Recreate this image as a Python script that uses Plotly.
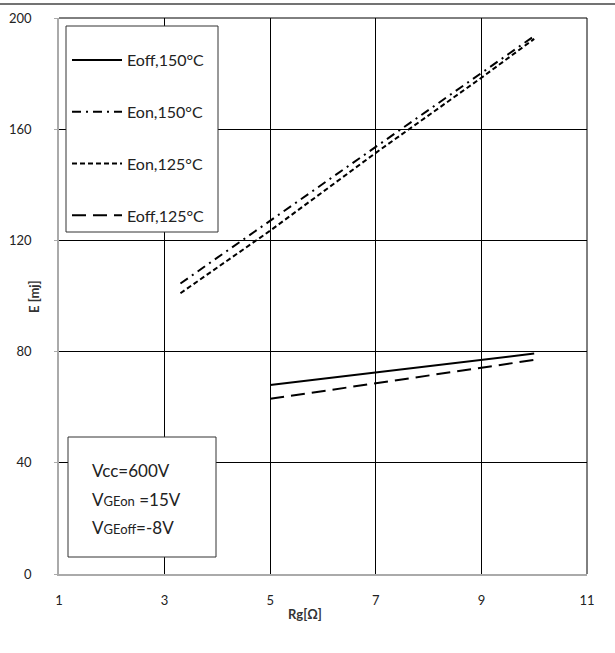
import plotly.graph_objects as go

# Data
rg_on = [3.3, 5, 7, 9, 10]
eon_150 = [104.5, 127.0, 153.5, 180.0, 193.5]
eon_125 = [101.0, 123.5, 151.5, 178.5, 192.5]
rg_off = [5, 10]
eoff_150 = [68.0, 79.3]
eoff_125 = [63.0, 77.0]

x_ticks = [1, 3, 5, 7, 9, 11]
y_ticks = [0, 40, 80, 120, 160, 200]

FONT = "Lato"
W, H = 615, 653
L, R, T, B = 59, 28, 18, 79
PW, PH = W - L - R, H - T - B

def px(x):
    return (x - L) / PW

def py(y):
    return (H - B - y) / PH

fig = go.Figure()
fig.add_trace(go.Scatter(x=rg_off, y=eoff_150, mode="lines", name="Eoff,150°C",
                         legendgroup="a", line=dict(color="black", width=2, dash="solid")))
fig.add_trace(go.Scatter(x=rg_on, y=eon_150, mode="lines", name="Eon,150°C",
                         legendgroup="b", line=dict(color="black", width=2, dash="9px,5px,2px,5px")))
fig.add_trace(go.Scatter(x=rg_on, y=eon_125, mode="lines", name="Eon,125°C",
                         legendgroup="c", line=dict(color="black", width=2, dash="5px,3px")))
fig.add_trace(go.Scatter(x=rg_off, y=eoff_125, mode="lines", name="Eoff,125°C",
                         legendgroup="d", line=dict(color="black", width=2, dash="14px,7px")))

shapes = [
    # top and right frame (black, like gridlines)
    dict(type="line", xref="paper", yref="paper", x0=0, x1=1, y0=1, y1=1,
         line=dict(color="black", width=1)),
    dict(type="line", xref="paper", yref="paper", x0=1, x1=1, y0=0, y1=1,
         line=dict(color="black", width=1)),
    # legend frame
    dict(type="rect", xref="paper", yref="paper", x0=px(66), x1=px(218), y0=py(232), y1=py(26),
         line=dict(color="#333", width=1), fillcolor="white", layer="above"),
    # conditions box
    dict(type="rect", xref="paper", yref="paper", x0=px(68), x1=px(216), y0=py(557), y1=py(437),
         line=dict(color="#333", width=1), fillcolor="white", layer="above"),
    # top page rule
    dict(type="line", xref="paper", yref="paper", x0=px(0), x1=px(615), y0=py(4), y1=py(4),
         line=dict(color="#444", width=1.5)),
]

small = "<span style='font-size:13px'>"
cond_font = dict(family=FONT, size=17, color="#222")
annotations = [
    dict(text="Vcc=600V", x=px(90), y=py(470), xref="paper", yref="paper", align="left",
         xanchor="left", yanchor="middle", showarrow=False, font=cond_font),
    dict(text="V" + small + "GEon</span> =15V", x=px(90), y=py(499), xref="paper", yref="paper", align="left",
         xanchor="left", yanchor="middle", showarrow=False, font=cond_font),
    dict(text="V" + small + "GEoff</span>=-8V", x=px(90), y=py(527), xref="paper", yref="paper", align="left",
         xanchor="left", yanchor="middle", showarrow=False, font=cond_font),
    dict(text="<b>Rg[Ω]</b>", x=px(305), y=py(614), xref="paper", yref="paper",
         xanchor="center", yanchor="middle", showarrow=False, font=dict(family=FONT, size=13, color="#333")),
    dict(text="<b>E [mj]</b>", x=px(34), y=py(297), xref="paper", yref="paper", textangle=-90,
         xanchor="center", yanchor="middle", showarrow=False, font=dict(family=FONT, size=13, color="#333")),
]

fig.update_layout(
    width=W, height=H,
    margin=dict(l=L, r=R, t=T, b=B, autoexpand=False),
    paper_bgcolor="white", plot_bgcolor="white",
    font=dict(family=FONT, size=13, color="#222"),
    showlegend=True,
    legend=dict(x=px(67), y=py(43), xanchor="left", yanchor="top",
                bgcolor="rgba(0,0,0,0)", borderwidth=0,
                font=dict(family=FONT, size=16, color="#222"),
                tracegroupgap=28, itemwidth=50),
    shapes=shapes,
    annotations=annotations,
)
fig.update_xaxes(range=[1, 11], tickvals=x_ticks, ticktext=[str(v) for v in x_ticks], automargin=False,
                 showgrid=True, gridcolor="black", gridwidth=1, zeroline=False,
                 showline=True, linecolor="#aaa", linewidth=1.5,
                 ticks="", ticklabelstandoff=14, tickfont=dict(family=FONT, size=13, color="#222"))
fig.update_yaxes(range=[0, 200], tickvals=y_ticks, ticktext=[str(v) for v in y_ticks], automargin=False,
                 showgrid=True, gridcolor="black", gridwidth=1, zeroline=False,
                 showline=True, linecolor="#aaa", linewidth=1.5,
                 ticks="outside", ticklen=3, tickcolor="#aaa",
                 ticklabelstandoff=20, tickfont=dict(family=FONT, size=13, color="#222"))

fig.write_html("out.html")
